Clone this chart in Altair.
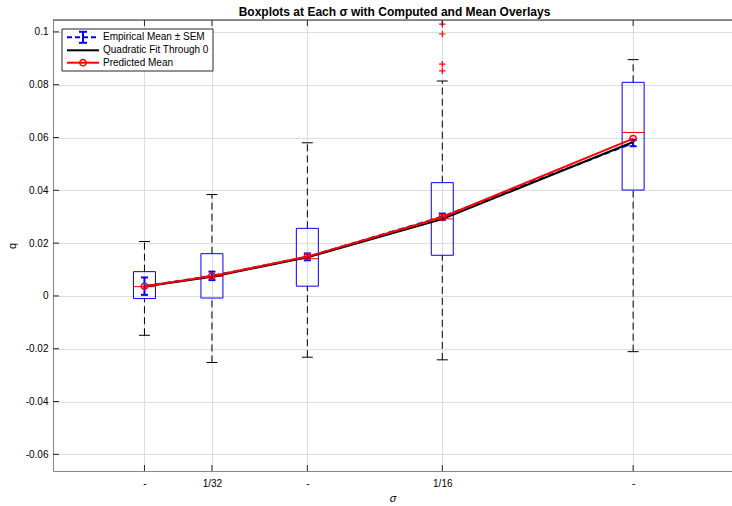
import altair as alt
import pandas as pd

# sigma positions of the five boxplots and their tick labels
sigma = [0.022097, 0.03125, 0.044194, 0.0625, 0.088388]
x_tick_labels = ["-", "1/32", "-", "1/16", "-"]

# boxplot summaries of q at each sigma
box_q1 = [-0.0010, -0.0008, 0.0037, 0.0154, 0.0401]
box_q3 = [0.0092, 0.0160, 0.0256, 0.0429, 0.0809]
box_median = [0.0035, 0.0074, 0.0141, 0.0292, 0.0619]
whisker_lo = [-0.0149, -0.0252, -0.0232, -0.0242, -0.0211]
whisker_hi = [0.0206, 0.0384, 0.0580, 0.0814, 0.0895]

# outliers (all at sigma = 1/16)
outlier_sigma = [0.0625, 0.0625, 0.0625, 0.0625]
outlier_q = [0.1029, 0.0992, 0.0878, 0.0852]

# overlays
emp_mean = [0.0037, 0.0076, 0.0148, 0.0300, 0.0579]
emp_sem = [0.0033, 0.0016, 0.0013, 0.0012, 0.0012]
fit_q = [0.0036, 0.0073, 0.0146, 0.0291, 0.0583]
pred_mean = [0.0037, 0.0075, 0.0149, 0.0298, 0.0596]

y_ticks = [-0.06, -0.04, -0.02, 0, 0.02, 0.04, 0.06, 0.08, 0.1]

W, H = 679, 451
FONT = "Liberation Sans"
AX = "#262626"

df = pd.DataFrame({
    "sigma": sigma,
    "q1": box_q1, "q3": box_q3, "med": box_median,
    "lo": whisker_lo, "hi": whisker_hi,
    "mean": emp_mean,
    "mlo": [m - s for m, s in zip(emp_mean, emp_sem)],
    "mhi": [m + s for m, s in zip(emp_mean, emp_sem)],
    "fit": fit_q, "pred": pred_mean,
})
out_df = pd.DataFrame({"sigma": outlier_sigma, "q": outlier_q})
ytick_df = pd.DataFrame({"v": y_ticks})
one = pd.DataFrame({"k": [0]})

xscale = alt.Scale(domain=[0.00969, 0.1018], nice=False, zero=False, padding=0)
yscale = alt.Scale(domain=[-0.0663, 0.1045], nice=False, zero=False, padding=0)

label_expr = "''"
for s, lab in reversed(list(zip(sigma, x_tick_labels))):
    label_expr = f"abs(datum.value - {s}) < 1e-5 ? '{lab}' : ({label_expr})"

x_axis = alt.Axis(values=sigma, labelExpr=label_expr, title="σ", ticks=False,
                  labelPadding=7, titlePadding=4, titleFontStyle="italic",
                  titleFontWeight="normal")
y_axis = alt.Axis(values=y_ticks, ticks=False, labelPadding=5, title="q",
                  titlePadding=8, titleFontWeight="normal",
                  labelExpr="datum.value < 0 ? '-' + format(-datum.value, '~g') : format(datum.value, '~g')")

X = lambda f: alt.X(f, type="quantitative", scale=xscale, axis=x_axis)
Y = lambda f: alt.Y(f, type="quantitative", scale=yscale, axis=y_axis)

base = alt.Chart(df)

boxes = base.mark_bar(size=22, fill="transparent", stroke="#0000ff", strokeWidth=1).encode(
    x=X("sigma"), y=Y("q1"), y2="q3:Q")
whisk_up = base.mark_rule(color="#000000", strokeDash=[7, 4], strokeWidth=1).encode(
    x=X("sigma"), y=Y("q3"), y2="hi:Q")
whisk_dn = base.mark_rule(color="#000000", strokeDash=[7, 4], strokeWidth=1).encode(
    x=X("sigma"), y=Y("lo"), y2="q1:Q")
cap_up = base.mark_tick(orient="horizontal", size=11, thickness=1, color="#000000",
                        opacity=1).encode(x=X("sigma"), y=Y("hi"))
cap_dn = base.mark_tick(orient="horizontal", size=11, thickness=1, color="#000000",
                        opacity=1).encode(x=X("sigma"), y=Y("lo"))
medians = base.mark_tick(orient="horizontal", size=22, thickness=1, color="#ff0000",
                         opacity=1).encode(x=X("sigma"), y=Y("med"))
outliers = alt.Chart(out_df).mark_point(
    shape="M-1,0H1M0,-1V1", size=40, filled=False, color="#ff0000", strokeWidth=1.2, opacity=1
).encode(x=X("sigma"), y=Y("q"))

err = base.mark_rule(color="#0000ff", strokeWidth=2).encode(x=X("sigma"), y=Y("mlo"), y2="mhi:Q")
err_cap_hi = base.mark_tick(orient="horizontal", size=7, thickness=2, color="#0000ff",
                            opacity=1).encode(x=X("sigma"), y=Y("mhi"))
err_cap_lo = base.mark_tick(orient="horizontal", size=7, thickness=2, color="#0000ff",
                            opacity=1).encode(x=X("sigma"), y=Y("mlo"))
mean_line = base.mark_line(color="#0000ff", strokeWidth=2, strokeDash=[6, 4]).encode(
    x=X("sigma"), y=Y("mean"))
fit_line = base.mark_line(color="#000000", strokeWidth=2).encode(x=X("sigma"), y=Y("fit"))
pred_line = base.mark_line(color="#ff0000", strokeWidth=2).encode(x=X("sigma"), y=Y("pred"))
pred_pts = base.mark_point(shape="circle", size=40, filled=False, color="#ff0000",
                           strokeWidth=1.5, opacity=1).encode(x=X("sigma"), y=Y("pred"))

# inward tick marks and the top frame line
tk = alt.Chart(ytick_df).mark_rule(color=AX, strokeWidth=1)
left_ticks = tk.encode(y=Y("v"), x=alt.value(0), x2=alt.value(6))
xt = alt.Chart(pd.DataFrame({"s": sigma})).mark_rule(color=AX, strokeWidth=1)
bottom_ticks = xt.encode(x=X("s"), y=alt.value(H), y2=alt.value(H - 6))
top_ticks = xt.encode(x=X("s"), y=alt.value(0), y2=alt.value(6))
top_frame = alt.Chart(one).mark_rule(color=AX, strokeWidth=1).encode(
    x=alt.value(0), x2=alt.value(W), y=alt.value(0))

# legend
lg = alt.Chart(one)
leg_box = lg.mark_rect(fill="white", stroke=AX, strokeWidth=1).encode(
    x=alt.value(9), x2=alt.value(160), y=alt.value(9), y2=alt.value(51))
r1, r2, r3 = 17.3, 30.3, 42.7
leg_items = [
    lg.mark_rule(color="#0000ff", strokeWidth=2, strokeDash=[5, 3]).encode(
        x=alt.value(14), x2=alt.value(46), y=alt.value(r1)),
    lg.mark_rule(color="#0000ff", strokeWidth=2).encode(
        x=alt.value(30), y=alt.value(r1 - 5.5), y2=alt.value(r1 + 5.5)),
    lg.mark_rule(color="#0000ff", strokeWidth=2).encode(
        x=alt.value(26), x2=alt.value(34), y=alt.value(r1 - 5.5)),
    lg.mark_rule(color="#0000ff", strokeWidth=2).encode(
        x=alt.value(26), x2=alt.value(34), y=alt.value(r1 + 5.5)),
    lg.mark_rule(color="#000000", strokeWidth=2).encode(
        x=alt.value(14), x2=alt.value(46), y=alt.value(r2)),
    lg.mark_rule(color="#ff0000", strokeWidth=2).encode(
        x=alt.value(14), x2=alt.value(46), y=alt.value(r3)),
    lg.mark_point(shape="circle", size=40, filled=False, color="#ff0000", strokeWidth=1.5,
                  opacity=1).encode(x=alt.value(30), y=alt.value(r3)),
]
leg_texts = []
for txt, ry in [("Empirical Mean ± SEM", r1), ("Quadratic Fit Through 0", r2), ("Predicted Mean", r3)]:
    leg_texts.append(lg.mark_text(text=txt, align="left", baseline="middle", font=FONT,
                                  fontSize=10, color="#000000").encode(
        x=alt.value(50), y=alt.value(ry)))

chart = alt.layer(
    boxes, whisk_up, whisk_dn, cap_up, cap_dn, medians, outliers,
    err, err_cap_hi, err_cap_lo, mean_line, fit_line, pred_line, pred_pts,
    left_ticks, bottom_ticks, top_ticks, top_frame,
    leg_box, *leg_items, *leg_texts,
).properties(
    width=W, height=H,
    autosize=alt.AutoSizeParams(type="none"),
    padding={"left": 53, "top": 20, "right": 0, "bottom": 35},
    title=alt.TitleParams(
        text="Boxplots at Each σ with Computed and Mean Overlays",
        font=FONT, fontSize=12, fontWeight="bold", color="#000000",
        anchor="middle", offset=2, dx=2, dy=2,
    ),
).configure_view(strokeWidth=0).configure_axis(
    domainColor=AX, domainWidth=1, gridColor="#e3e3e3", gridWidth=1,
    labelFont=FONT, labelFontSize=11, labelColor=AX,
    titleFont=FONT, titleFontSize=11, titleColor=AX,
).configure(background="white")

chart.save("out.html", embed_options={"renderer": "svg", "actions": False})
